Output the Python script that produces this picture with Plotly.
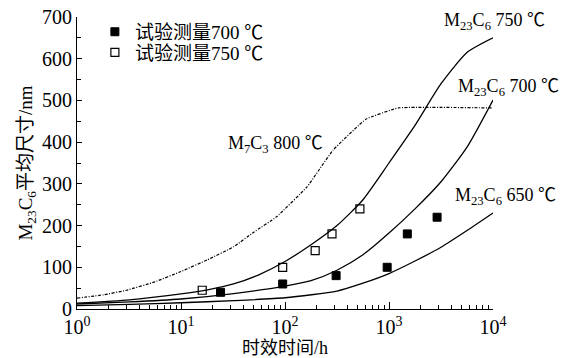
import plotly.graph_objects as go

# ---- data ----
t_750 = [1, 3.2, 10, 18, 32, 56, 100, 178, 316, 562, 1000, 1778, 3162, 5623, 10000]
d_750 = [14, 22, 36, 46, 60, 82, 114, 154, 200, 262, 350, 440, 540, 615, 650]

t_700 = [1, 3.2, 10, 32, 100, 178, 316, 562, 1000, 1778, 3162, 5623, 10000]
d_700 = [12, 17, 24, 37, 55, 68, 93, 130, 182, 240, 305, 388, 501]

t_650 = [1, 3.2, 10, 32, 100, 316, 562, 1000, 1778, 3162, 5623, 10000]
d_650 = [8, 11, 15, 20, 27, 43, 62, 85, 115, 148, 188, 230]

t_m7c3 = [1, 1.8, 3, 5.6, 10, 18, 32, 50, 83, 163, 290, 600, 1230, 10000]
d_m7c3 = [26, 34, 45, 65, 90, 118, 149, 184, 221, 293, 381, 455, 482, 482]

t_exp700 = [24, 95, 310, 960, 1500, 2900]
d_exp700 = [40, 60, 80, 100, 180, 220]

t_exp750 = [16, 95, 195, 283, 525]
d_exp750 = [45, 100, 140, 180, 240]

x_ticks = [1, 10, 100, 1000, 10000]
x_ticktext = ["10<sup>0</sup>", "10<sup>1</sup>", "10<sup>2</sup>", "10<sup>3</sup>", "10<sup>4</sup>"]
x_minor = [m * d for d in [1, 10, 100, 1000] for m in range(2, 10)]
y_ticks = [0, 100, 200, 300, 400, 500, 600, 700]

# curve labels (paper coordinates, anchor)
labels = [
    ("M<sub>23</sub>C<sub>6</sub> 750 ℃", 1.130, 0.983, "right"),
    ("M<sub>23</sub>C<sub>6</sub> 700 ℃", 1.164, 0.760, "right"),
    ("M<sub>7</sub>C<sub>3</sub> 800 ℃", 0.478, 0.562, "center"),
    ("M<sub>23</sub>C<sub>6</sub> 650 ℃", 1.156, 0.384, "right"),
]

FONT = "Liberation Serif, Times New Roman, Noto Sans CJK SC, serif"

fig = go.Figure()
line_style = dict(color="black", width=1.3, shape="spline", smoothing=0.6)
fig.add_trace(go.Scatter(x=t_750, y=d_750, mode="lines", line=line_style, showlegend=False))
fig.add_trace(go.Scatter(x=t_700, y=d_700, mode="lines", line=line_style, showlegend=False))
fig.add_trace(go.Scatter(x=t_650, y=d_650, mode="lines", line=line_style, showlegend=False))
fig.add_trace(go.Scatter(x=t_m7c3, y=d_m7c3, mode="lines",
                         line=dict(color="black", width=1.2, dash="3px,1.5px,1px,1.5px",
                                   shape="spline", smoothing=0.3),
                         showlegend=False))
fig.add_trace(go.Scatter(x=t_exp700, y=d_exp700, mode="markers", name="试验测量700 ℃",
                         legend="legend",
                         marker=dict(symbol="square", size=8, color="black",
                                     line=dict(color="black", width=1))))
fig.add_trace(go.Scatter(x=t_exp750, y=d_exp750, mode="markers", name="试验测量750 ℃",
                         legend="legend2",
                         marker=dict(symbol="square-open", size=8, color="black",
                                     line=dict(color="black", width=1.2))))

for txt, lx, ly, anc in labels:
    fig.add_annotation(x=lx, y=ly, xref="paper", yref="paper", text=txt, showarrow=False,
                       xanchor=anc, yanchor="middle",
                       font=dict(family=FONT, size=18, color="black"))

leg_common = dict(xanchor="left", yanchor="middle", bgcolor="rgba(0,0,0,0)",
                  font=dict(family=FONT, size=19), itemwidth=30)
fig.update_layout(
    width=565, height=358,
    margin=dict(l=77, r=72, t=17, b=49, autoexpand=False),
    paper_bgcolor="white", plot_bgcolor="white",
    font=dict(family=FONT, size=18, color="black"),
    legend=dict(x=0.043, y=0.949, **leg_common),
    legend2=dict(x=0.043, y=0.878, **leg_common),
)
fig.update_xaxes(
    type="log", range=[0, 4], automargin=False,
    tickvals=x_ticks, ticktext=x_ticktext,
    ticks="inside", ticklen=7, tickwidth=1, tickcolor="black",
    minor=dict(tickvals=x_minor, ticks="inside", ticklen=4, tickwidth=1, tickcolor="black", showgrid=False),
    showline=True, linecolor="black", linewidth=1.2,
    showgrid=False, zeroline=False,
    tickfont=dict(family=FONT, size=20),
    title=dict(text="时效时间/h", font=dict(family=FONT, size=18), standoff=8),
)
fig.update_yaxes(
    range=[0, 700], tickvals=y_ticks, automargin=False,
    ticks="inside", ticklen=5, tickwidth=1, tickcolor="black",
    minor=dict(dtick=50, ticks="inside", ticklen=4, tickwidth=1, tickcolor="black", showgrid=False),
    showline=True, linecolor="black", linewidth=1.2,
    showgrid=False, zeroline=False,
    tickfont=dict(family=FONT, size=20),
    title=dict(text="M<sub>23</sub>C<sub>6</sub>平均尺寸/nm", font=dict(family=FONT, size=19), standoff=4),
)

fig.write_html("out.html", config={"displayModeBar": False},
               post_script="document.body.style.margin='0px';")
